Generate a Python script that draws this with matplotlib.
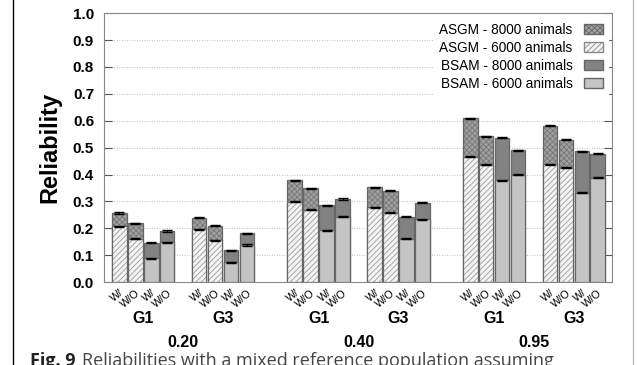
import numpy as np
import matplotlib.pyplot as plt
from matplotlib.patches import Patch
import matplotlib.transforms as mtransforms

plt.rcParams['font.family'] = ['Liberation Sans', 'DejaVu Sans']
plt.rcParams['hatch.linewidth'] = 0.6

# data: one value per (heritability, group) -> 0.20 G1, 0.20 G3, 0.40 G1, 0.40 G3, 0.95 G1, 0.95 G3
heritabilities = ['0.20', '0.40', '0.95']
groups = ['G1', 'G3']
bar_labels = ['W/', 'W/O', 'W/', 'W/O']

asgm6_w = [0.207, 0.196, 0.299, 0.278, 0.466, 0.439]
asgm6_wo = [0.162, 0.155, 0.269, 0.258, 0.437, 0.425]
asgm8_w = [0.257, 0.239, 0.379, 0.352, 0.610, 0.581]
asgm8_wo = [0.219, 0.209, 0.349, 0.339, 0.542, 0.530]
bsam6_w = [0.089, 0.074, 0.192, 0.161, 0.379, 0.332]
bsam6_wo = [0.148, 0.138, 0.243, 0.233, 0.399, 0.388]
bsam8_w = [0.146, 0.119, 0.286, 0.243, 0.536, 0.487]
bsam8_wo = [0.190, 0.182, 0.309, 0.296, 0.491, 0.478]

EDGE = '#666666'
# fill + hatch colour (hatch drawn with edgecolor, outline drawn separately)
fills = {
    'asgm8': dict(facecolor='#a0a0a0', hatch='xxxxxx', edgecolor='#777777'),
    'asgm6': dict(facecolor='#f4f4f4', hatch='//////', edgecolor='#9a9a9a'),
    'bsam8': dict(facecolor='#828282', edgecolor='#828282'),
    'bsam6': dict(facecolor='#c4c4c4', edgecolor='#c4c4c4'),
}

fig = plt.figure(figsize=(6.37, 3.65), dpi=100)
ax = fig.add_axes([0.163, 0.227, 0.798, 0.737])

width = 0.92
n = len(asgm6_w)


def draw_bar(x, h, kind, z):
    ax.bar(x, h, width, linewidth=0, zorder=z, **fills[kind])
    ax.bar(x, h, width, facecolor='none', edgecolor=EDGE, linewidth=0.9, zorder=z)


for g in range(n):
    base = g * 5 + g // 2
    xs = [base + j for j in range(4)]
    low = [asgm6_w[g], asgm6_wo[g], bsam6_w[g], bsam6_wo[g]]
    high = [asgm8_w[g], asgm8_wo[g], bsam8_w[g], bsam8_wo[g]]
    kinds = [('asgm8', 'asgm6'), ('asgm8', 'asgm6'), ('bsam8', 'bsam6'), ('bsam8', 'bsam6')]
    for x, lo, hi, (k8, k6) in zip(xs, low, high, kinds):
        draw_bar(x, hi, k8, 2)
        draw_bar(x, lo, k6, 3)
        ax.errorbar([x, x], [lo, hi], yerr=0.002, fmt='none', ecolor='black',
                    elinewidth=0.8, capsize=3.5, capthick=1.0, zorder=4)

# x tick labels W/ W/O under each bar
ticks = []
labels = []
for g in range(n):
    base = g * 5 + g // 2
    for j in range(4):
        ticks.append(base + j)
        labels.append(bar_labels[j])
ax.set_xticks(ticks)
ax.set_xticklabels(labels, rotation=40, ha='right', rotation_mode='anchor',
                   fontsize=7.8)
ax.tick_params(axis='x', length=0, pad=4)

# group labels and heritability labels
trans = mtransforms.blended_transform_factory(ax.transData, ax.transAxes)
for g in range(n):
    base = g * 5 + g // 2
    ax.text(base + 1.5, -0.134, groups[g % 2], transform=trans, ha='center', va='center',
            fontsize=11.5, fontweight='bold')
for h in range(len(heritabilities)):
    ax.text(h * 11 + 4, -0.223, heritabilities[h], transform=trans, ha='center', va='center',
            fontsize=11.5, fontweight='bold')

ax.set_xlim(-0.97, 30.9)
ax.set_ylim(0, 1.0)
ax.set_yticks(np.arange(0, 1.01, 0.1))
ax.set_yticklabels([f'{v:.1f}' for v in np.arange(0, 1.01, 0.1)], fontsize=11, fontweight='bold')
ax.tick_params(axis='y', direction='in', length=6, right=True, color='#555555', pad=7)
ax.yaxis.grid(True, linestyle=(0, (1, 2)), color='#aaaaaa', linewidth=0.6, zorder=0)
ax.set_axisbelow(True)
for s in ax.spines.values():
    s.set_color('#888888')
ax.set_ylabel('Reliability', fontsize=17, fontweight='bold', labelpad=8)

handles = [Patch(label='ASGM - 8000 animals', facecolor='#a0a0a0', hatch='xxxxxx', edgecolor=EDGE),
           Patch(label='ASGM - 6000 animals', facecolor='#f4f4f4', hatch='//////', edgecolor='#8a8a8a'),
           Patch(label='BSAM - 8000 animals', facecolor='#828282', edgecolor=EDGE),
           Patch(label='BSAM - 6000 animals', facecolor='#c4c4c4', edgecolor=EDGE)]
leg = ax.legend(handles=handles, loc='upper right', markerfirst=False, frameon=True,
                fontsize=9.8, handlelength=1.4, handleheight=0.8, labelspacing=0.3,
                borderaxespad=0.3, fancybox=False)
leg.get_frame().set_edgecolor('white')
leg.get_frame().set_alpha(1.0)

# figure box lines and caption (the caption runs off the bottom edge, as in the source)
fig.add_artist(plt.Line2D([13 / 637, 13 / 637], [0, 1], color='black', linewidth=1))
fig.add_artist(plt.Line2D([633 / 637, 633 / 637], [0, 1], color='#bbbbbb', linewidth=1))
fig.text(30 / 637, 1 - 352 / 365, 'Fig. 9', fontsize=13, fontweight='bold', color='#222222',
         va='top', family='Open Sans')
fig.text(82 / 637, 1 - 352 / 365, 'Reliabilities with a mixed reference population assuming',
         fontsize=13, color='#444444', va='top', family='Open Sans')

fig.savefig('out.png', dpi=100)
